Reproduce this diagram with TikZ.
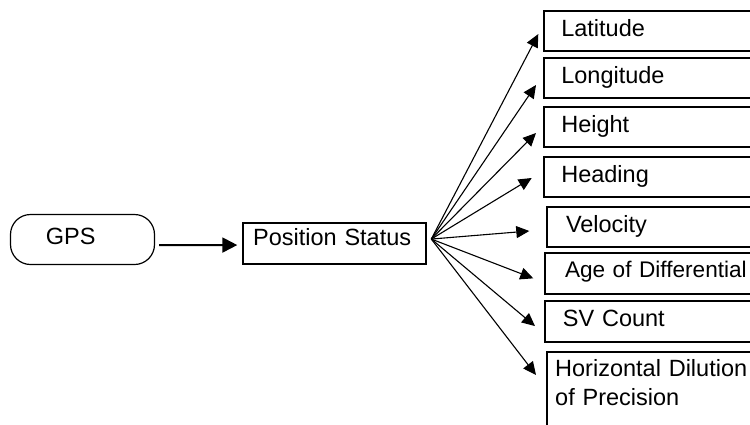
\documentclass[tikz,border=0pt]{standalone}
\usepackage{fontspec}
\setmainfont{Liberation Sans}
\usetikzlibrary{arrows.meta,calc}
\begin{document}
\begin{tikzpicture}[x=1pt,y=-1pt,
  every node/.style={font=\fontsize{23.5}{29}\selectfont},
  field/.style={draw,line width=2pt,anchor=north west,outer sep=0pt,inner ysep=8pt,
    text height=17pt,text depth=7pt,text width=300pt,align=left,inner xsep=17pt},
  fanarrow/.style={line width=1.1pt,-{Triangle[length=13pt,width=12pt]}},
  feedarrow/.style={line width=2pt,-{Triangle[length=15pt,width=15pt]}}]
\useasboundingbox (0,0) rectangle (750,424);
\clip (0,0) rectangle (750,424);
\node[draw,line width=1.2pt,rounded corners=20pt,anchor=north west,outer sep=0pt,
  inner xsep=35.4pt,inner ysep=12.5pt,text width=73.2pt,align=left,
  text height=17pt,text depth=8pt] (gps) at (10.5,214.5) {GPS};
\node[draw,line width=2pt,anchor=north west,outer sep=0pt,inner xsep=9.8pt,
  inner ysep=4.7pt,text width=163.4pt,align=left,text height=17pt,
  text depth=14.3pt] (ps) at (243.3,223.3) {Position Status};
\node[field] (lat) at (544.3,11) {Latitude};
\node[field] (lon) at (544.3,58) {Longitude};
\node[field] (hgt) at (544.3,107) {Height};
\node[field] (hdg) at (544.3,157) {Heading};
\node[field,inner xsep=19pt] (vel) at (547,207) {Velocity};
\node[field,inner xsep=19.7pt,text depth=8.3pt,font=\fontsize{22.6}{29}\selectfont] (age) at (545.3,252.7) {Age of Differential};
\node[field,inner xsep=17.6pt,text depth=7.7pt] (svc) at (545.3,301) {SV Count};
\node[field,inner xsep=8.2pt,text depth=80pt] (hdop) at (547,351.7) {Horizontal Dilution\\of Precision};
\coordinate (hub) at ($(ps.east)+(5,-4.6)$);
\draw[feedarrow] ($(gps.east)+(4.5,5.5)$) -- ($(ps.west)+(-6,1.4)$);
\draw[fanarrow] (hub) -- ($(lat.west)+(-6,3)$);
\draw[fanarrow] (hub) -- ($(lon.west)+(-8.3,7)$);
\draw[fanarrow] (hub) -- ($(hgt.west)+(-8.3,6)$);
\draw[fanarrow] (hub) -- ($(hdg.west)+(-12.6,1)$);
\draw[fanarrow] (hub) -- ($(vel.west)+(-17.7,4)$);
\draw[fanarrow] (hub) -- ($(age.west)+(-12,5)$);
\draw[fanarrow] (hub) -- ($(svc.west)+(-10.3,4.7)$);
\draw[fanarrow] (hub) -- ($(hdop.north west)+(-11,23.3)$);
\end{tikzpicture}
\end{document}
